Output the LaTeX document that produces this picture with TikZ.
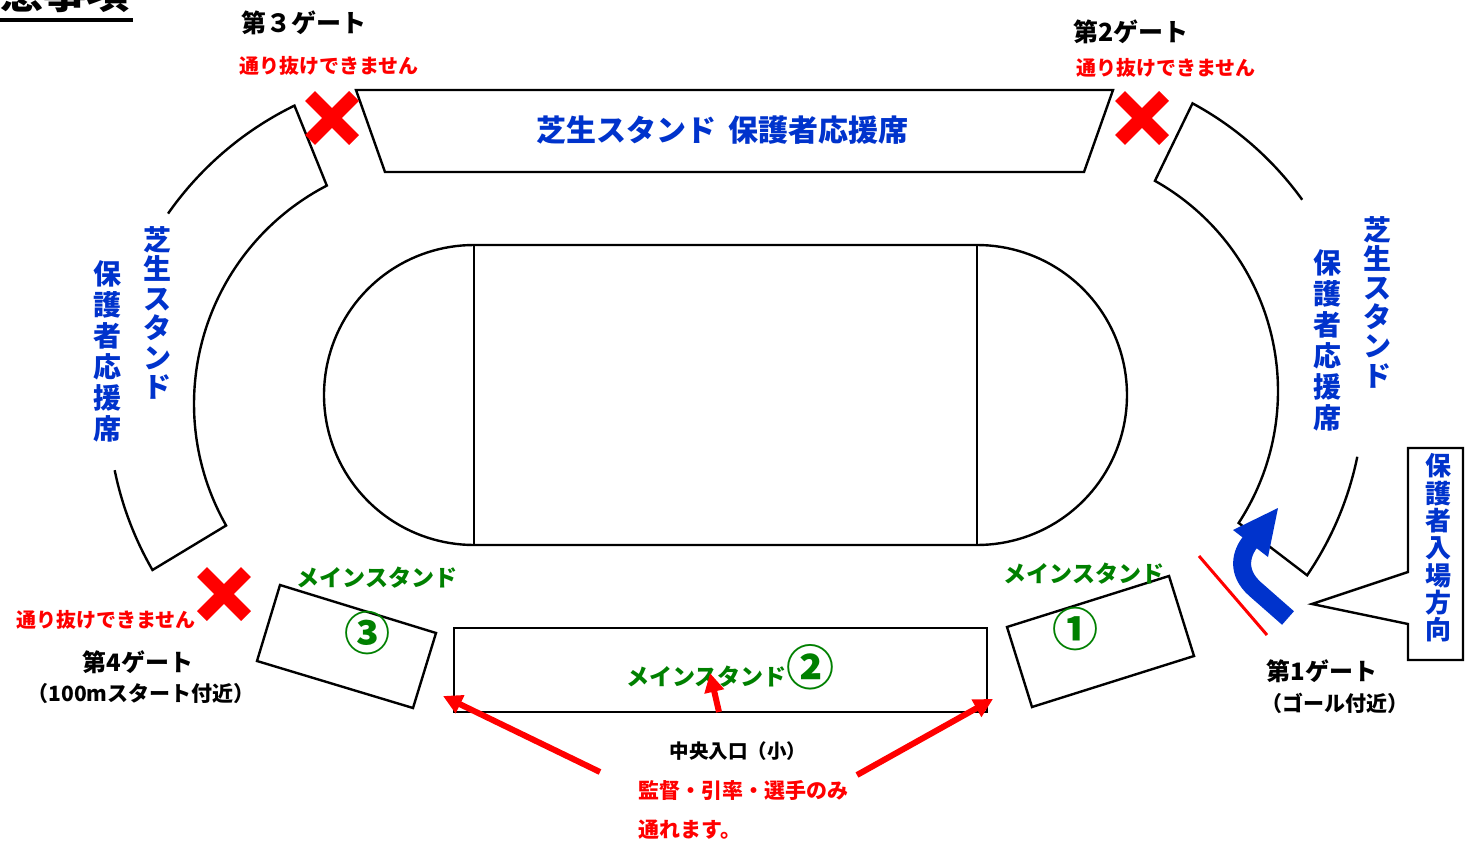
\documentclass[tikz,border=0pt]{standalone}
\usepackage{fontspec}
\setmainfont{Noto Sans CJK JP}
\usetikzlibrary{arrows.meta,calc}
\definecolor{jblue}{RGB}{0,51,204}
\definecolor{jgreen}{RGB}{0,128,0}
\definecolor{jred}{RGB}{255,0,0}
\newcommand{\myfs}[1]{\fontsize{#1}{#1}\selectfont}
\begin{document}
\begin{tikzpicture}[x=1pt,y=-1pt,
  stand/.style={draw=black,line width=2.4pt,line join=miter},
  lbl/.style={inner sep=0pt,font=\bfseries\myfs{#1}},
  vlbl/.style 2 args={inner sep=0pt,align=center,font=\bfseries\fontsize{#1}{#2}\selectfont},
  redx/.style={draw=jred,line width=14pt},
  redarrow/.style={draw=jred,line width=6pt,-{Triangle[length=19pt,width=19pt]}},
  blueshaft/.style={draw=jblue,line width=18pt},
  gateline/.style={draw=jred,line width=3pt}]
\useasboundingbox (0,0) rectangle (1465,843);
\fill[white] (0,0) rectangle (1465,843);

% title (cut off at top, as in the reference)
\node[anchor=base west,inner sep=0pt,font=\bfseries\myfs{43}] (title) at (-43,9) {注意事項};
\draw[line width=4pt] (0,20) -- (133,20);

% top stand
\draw[stand] (356,90) -- (1113,90) -- (1084,172) -- (385,172) -- cycle;
\node[lbl=30,text=jblue] (topt) at (722,130) {芝生スタンド\hspace{12pt}保護者応援席};

% left curved stand
\draw[stand] plot[domain=215:244,samples=40] ({440+332*cos(\x)},{404+332*sin(\x)})
  -- plot[domain=242.6:150.4,samples=80] ({440+246*cos(\x)},{404+246*sin(\x)})
  -- plot[domain=150:168.5,samples=30] ({440+332*cos(\x)},{404+332*sin(\x)});
\node[vlbl={28}{29.5},text=jblue] (lA) at (157,313) {芝\\生\\ス\\タ\\ン\\ド};
\node[vlbl={28}{31},text=jblue] (lB) at (107,351) {保\\護\\者\\応\\援\\席};

% right curved stand
\draw[stand] plot[domain=-35.8:-61.6,samples=40] ({1037+327*cos(\x)},{391+327*sin(\x)})
  -- plot[domain=-60.7:33.2,samples=80] ({1037+241*cos(\x)},{391+241*sin(\x)})
  -- plot[domain=34.3:11.6,samples=30] ({1037+327*cos(\x)},{391+327*sin(\x)});
\node[vlbl={28}{29.2},text=jblue] (rA) at (1377,302) {芝\\生\\ス\\タ\\ン\\ド};
\node[vlbl={28}{31},text=jblue] (rB) at (1327,340) {保\\護\\者\\応\\援\\席};

% track
\draw[stand] (474,245) -- (977,245)
  -- plot[domain=-90:90,samples=80] ({977+150*cos(\x)},{395+150*sin(\x)})
  -- (474,545)
  -- plot[domain=90:270,samples=80] ({474+150*cos(\x)},{395+150*sin(\x)}) -- cycle;
\draw[stand] (474,245) -- (474,545);
\draw[stand] (977,245) -- (977,545);

% main stands
\draw[stand] (280,585) -- (436,633) -- (413,708) -- (257,661) -- cycle;
\draw[stand] (454,628) rectangle (987,712);
\draw[stand] (1007,627) -- (1169,576) -- (1194,656) -- (1032,707) -- cycle;
\node[lbl=23,text=jgreen] (ms3) at (377,578) {メインスタンド};
\node[lbl=46,text=jgreen] (n3) at (367,633) {③};
\node[lbl=23,text=jgreen] (ms1) at (1084,574) {メインスタンド};
\node[lbl=46,text=jgreen] (n1) at (1075,629) {①};
\node[anchor=base west,inner sep=0pt,text=jgreen,font=\bfseries\myfs{23}] (ms2) at (626,685) {メインスタンド{\myfs{48}②}};

% X marks
\coordinate (x3) at (332,118);
\coordinate (x2) at (1142,118);
\coordinate (x4) at (224,594);
\foreach \c in {x3,x2,x4}{
  \draw[redx] ($(\c)+(-22,-22)$) -- ($(\c)+(22,22)$);
  \draw[redx] ($(\c)+(-22,22)$) -- ($(\c)+(22,-22)$);
}

% gate labels
\node[lbl=25] (g3) at (304,23) {第３ゲート};
\node[lbl=20,text=jred] (g3n) at (329,66) {通り抜けできません};
\node[lbl=25] (g2) at (1131,32) {第2ゲート};
\node[lbl=20,text=jred] (g2n) at (1166,68) {通り抜けできません};
\node[lbl=20,text=jred] (g4n) at (106,620) {通り抜けできません};
\node[lbl=24] (g4) at (138,662) {第4ゲート};
\node[lbl=21] (g4b) at (141,694) {（100mスタート付近）};
\node[lbl=24] (g1) at (1322,671) {第1ゲート};
\node[lbl=21] (g1b) at (1335,703) {（ゴール付近）};

% gate 1 red line
\coordinate (gl1) at (1199,556);
\coordinate (gl2) at (1267,635);
\draw[gateline] (gl1) -- (gl2);

% blue arrow
\coordinate (bs) at (1288,618);
\coordinate (bm) at (1255,589);
\coordinate (be) at (1251,541);
\draw[blueshaft] (bs) -- (bm) .. controls (1236,572) and (1241,553) .. (be);
\coordinate (bt) at (1278,508);
\coordinate (bl) at (1233,530);
\coordinate (br) at (1268,557);
\fill[jblue] (bt) -- (bl) -- (br) -- cycle;

% callout
\draw[stand,fill=white] (1408,448) -- (1463,448) -- (1463,660) -- (1408,660) -- (1408,624) -- (1312,604) -- (1408,572) -- cycle;
\node[vlbl={26}{27.3},text=jblue] (co) at (1438,548) {保\\護\\者\\入\\場\\方\\向};

% central entrance
\node[lbl=19.5] (ce) at (738,751) {中央入口（小）};
\node[anchor=west,lbl=21,text=jred] (ce2) at (638,790) {監督・引率・選手のみ};
\node[anchor=west,lbl=21,text=jred] (ce3) at (638,830) {通れます。};
\coordinate (tailL) at (600,772);
\coordinate (tipL) at (443,696);
\coordinate (tailR) at (857,775);
\coordinate (tipR) at (993,699);
\coordinate (tailC) at (719,712);
\coordinate (tipC) at (710,673);
\draw[redarrow] (tailL) -- (tipL);
\draw[redarrow] (tailR) -- (tipR);
\draw[redarrow] (tailC) -- (tipC);
\end{tikzpicture}
\end{document}
